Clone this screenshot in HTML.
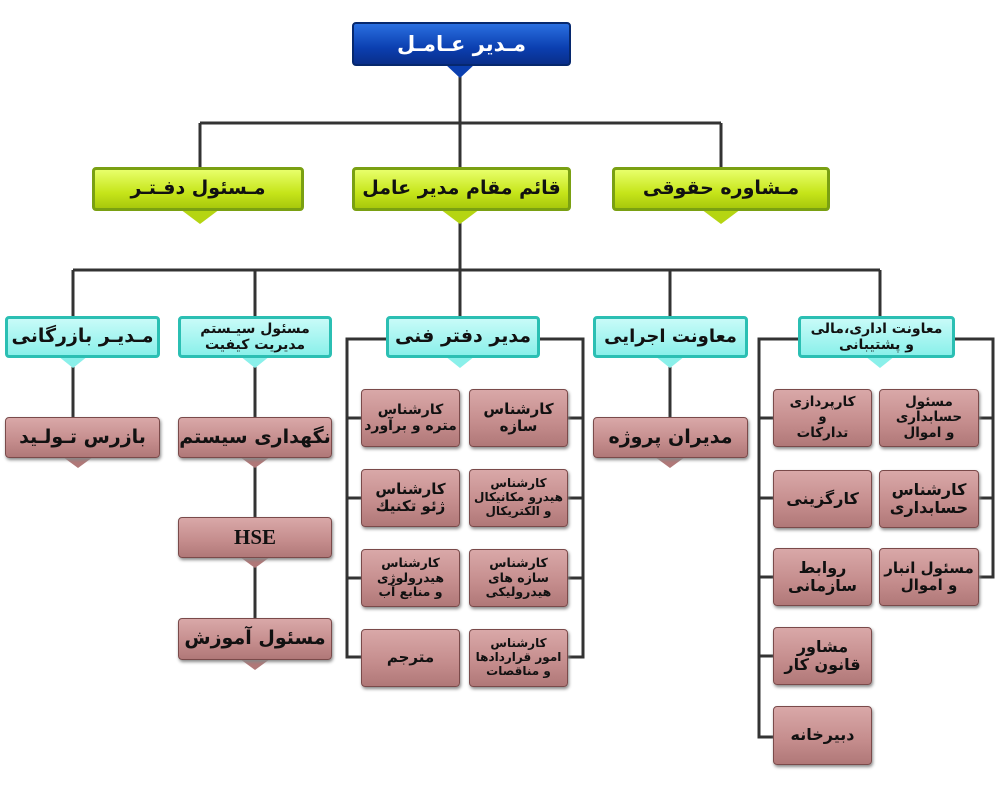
<!DOCTYPE html>
<html><head><meta charset="utf-8"><style>
body{margin:0;width:1000px;height:800px;background:#fff;position:relative;overflow:hidden;font-family:"DejaVu Sans","Liberation Sans",sans-serif;}
.b{position:absolute;box-sizing:border-box;display:flex;align-items:center;justify-content:center;text-align:center;direction:rtl;font-weight:bold;color:#111;border-radius:4px;line-height:1.15;white-space:nowrap;}
.blue{background:linear-gradient(#2a6fe0,#0b3fb0 60%,#0a2f8a);border:2px solid #06286e;color:#fff;font-size:21px;}
.green{background:linear-gradient(#e8ff6a,#c6e51a 60%,#a8c80c);border:3px solid #7aa012;font-size:19px;}
.cyan{background:linear-gradient(#c8fbf8,#8af0ea);border:3px solid #2bbfb3;font-size:18px;}
.pink{background:linear-gradient(#d9a8a8,#c48c8c 60%,#b07878);border:1px solid #7a4a4a;box-shadow:1px 2px 3px #888;font-size:15px;}
.pk{font-size:19px;}
svg{position:absolute;left:0;top:0;}
</style></head><body>
<svg width="1000" height="800">
<g stroke="#333" stroke-width="3" fill="none">
<path d="M460 66V167M200 123H721M200 123V167M721 123V167"/>
<path d="M460 211V316M73 270H880M73 270V316M255 270V316M670 270V316M880 270V316"/>
<path d="M73 358V417M255 358V618M670 358V417"/>
<path d="M386 339H347V657H361M347 418H361M347 498H361M347 578H361"/>
<path d="M540 339H583V657H568M583 418H568M583 498H568M583 578H568"/>
<path d="M798 339H759V737H773M759 418H773M759 498H773M759 577H773M759 656H773"/>
<path d="M955 339H993V577H979M993 418H979M993 498H979"/>
</g>
<g>
<polygon points="445,64 475,64 460,78" fill="#0b3fb0"/>
<polygon points="440,209 480,209 460,224" fill="#b5d512"/>
<polygon points="180,209 220,209 200,224" fill="#b5d512"/>
<polygon points="701,209 741,209 721,224" fill="#b5d512"/>
<polygon points="58,356 88,356 73,368" fill="#8af0ea"/>
<polygon points="240,356 270,356 255,368" fill="#8af0ea"/>
<polygon points="445,356 475,356 460,368" fill="#8af0ea"/>
<polygon points="655,356 685,356 670,368" fill="#8af0ea"/>
<polygon points="865,356 895,356 880,368" fill="#8af0ea"/>
<polygon points="63,457 93,457 78,468" fill="#b07878"/>
<polygon points="240,457 270,457 255,468" fill="#b07878"/>
<polygon points="240,557 270,557 255,568" fill="#b07878"/>
<polygon points="240,659 270,659 255,670" fill="#b07878"/>
<polygon points="655,457 685,457 670,468" fill="#b07878"/>
</g>
</svg>
<div class="b blue" style="left:352px;top:22px;width:219px;height:44px;">مـدير عـامـل</div>
<div class="b green" style="left:92px;top:167px;width:212px;height:44px;">مـسئول دفـتـر</div>
<div class="b green" style="left:352px;top:167px;width:219px;height:44px;">قائم مقام مدير عامل</div>
<div class="b green" style="left:612px;top:167px;width:218px;height:44px;">مـشاوره حقوقی</div>
<div class="b cyan" style="left:5px;top:316px;width:155px;height:42px;font-size:19px;">مـديـر بازرگانی</div>
<div class="b cyan" style="left:178px;top:316px;width:154px;height:42px;font-size:14px;">مسئول سيـستم<br>مديريت كيفيت</div>
<div class="b cyan" style="left:386px;top:316px;width:154px;height:42px;font-size:19px;">مدير دفتر فنی</div>
<div class="b cyan" style="left:593px;top:316px;width:155px;height:42px;">معاونت اجرايی</div>
<div class="b cyan" style="left:798px;top:316px;width:157px;height:42px;font-size:14px;">معاونت اداری،مالی<br>و پشتيبانی</div>
<div class="b pink pk" style="left:5px;top:417px;width:155px;height:41px;">بازرس تـولـيد</div>
<div class="b pink pk" style="left:178px;top:417px;width:154px;height:41px;">نگهداری سيستم</div>
<div class="b pink pk" style="left:178px;top:517px;width:154px;height:41px;font-family:'Liberation Serif',serif;font-size:21px;">HSE</div>
<div class="b pink pk" style="left:178px;top:618px;width:154px;height:42px;">مسئول آموزش</div>
<div class="b pink pk" style="left:593px;top:417px;width:155px;height:41px;">مديران پروژه</div>
<div class="b pink" style="left:361px;top:389px;width:99px;height:58px;font-size:14px;">كارشناس<br>متره و برآورد</div>
<div class="b pink" style="left:469px;top:389px;width:99px;height:58px;">كارشناس<br>سازه</div>
<div class="b pink" style="left:361px;top:469px;width:99px;height:58px;">كارشناس<br>ژئو تكنيك</div>
<div class="b pink" style="left:469px;top:469px;width:99px;height:58px;font-size:12px;">كارشناس<br>هيدرو مكانيكال<br>و الكتريكال</div>
<div class="b pink" style="left:361px;top:549px;width:99px;height:58px;font-size:12.5px;">كارشناس<br>هيدرولوژی<br>و منابع آب</div>
<div class="b pink" style="left:469px;top:549px;width:99px;height:58px;font-size:12.5px;">كارشناس<br>سازه های<br>هيدروليكی</div>
<div class="b pink" style="left:361px;top:629px;width:99px;height:58px;">مترجم</div>
<div class="b pink" style="left:469px;top:629px;width:99px;height:58px;font-size:12px;">كارشناس<br>امور قراردادها<br>و مناقصات</div>
<div class="b pink" style="left:773px;top:389px;width:99px;height:58px;font-size:13.5px;">كارپردازی<br>و<br>تداركات</div>
<div class="b pink" style="left:879px;top:389px;width:100px;height:58px;font-size:13.5px;">مسئول<br>حسابداری<br>و اموال</div>
<div class="b pink" style="left:773px;top:470px;width:99px;height:58px;font-size:16px;">كارگزينی</div>
<div class="b pink" style="left:879px;top:470px;width:100px;height:58px;font-size:16px;">كارشناس<br>حسابداری</div>
<div class="b pink" style="left:773px;top:548px;width:99px;height:58px;font-size:16px;">روابط<br>سازمانی</div>
<div class="b pink" style="left:879px;top:548px;width:100px;height:58px;font-size:15px;">مسئول انبار<br>و اموال</div>
<div class="b pink" style="left:773px;top:627px;width:99px;height:58px;font-size:16px;">مشاور<br>قانون كار</div>
<div class="b pink" style="left:773px;top:706px;width:99px;height:59px;font-size:16px;">دبيرخانه</div>
</body></html>
